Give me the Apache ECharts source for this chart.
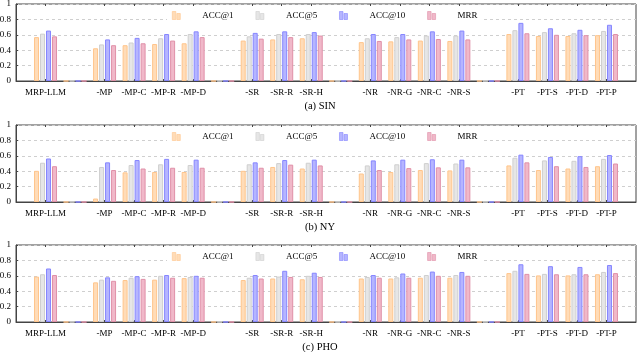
<!DOCTYPE html>
<html>
<head>
<meta charset="utf-8">
<script src="https://cdn.jsdelivr.net/npm/echarts@6/dist/echarts.min.js"></script>
<style>
  html, body { margin: 0; padding: 0; background: #fff; }
  #chart { width: 640px; height: 352px; }
</style>
</head>
<body>
<div id="chart"></div>
<script>
// categories ('' = empty slot between ablation groups)
var categories = ['MRP-LLM', '', '-MP', '-MP-C', '-MP-R', '-MP-D', '', '-SR', '-SR-R', '-SR-H', '',
    '-NR', '-NR-G', '-NR-C', '-NR-S', '', '-PT', '-PT-S', '-PT-D', '-PT-P'];
var seriesNames = ['ACC@1', 'ACC@5', 'ACC@10', 'MRR'];
var yTicks = [0, 0.2, 0.4, 0.6, 0.8, 1];

// (a) SIN
var sinAcc1  = [0.57, 0, 0.425, 0.465, 0.48, 0.49, 0, 0.525, 0.54, 0.555, 0, 0.505, 0.515, 0.525, 0.52, 0, 0.61, 0.585, 0.585, 0.595];
var sinAcc5  = [0.615, 0, 0.475, 0.5, 0.555, 0.61, 0, 0.58, 0.61, 0.61, 0, 0.555, 0.57, 0.59, 0.59, 0, 0.66, 0.635, 0.62, 0.65];
var sinAcc10 = [0.655, 0, 0.54, 0.56, 0.61, 0.645, 0, 0.625, 0.645, 0.635, 0, 0.61, 0.61, 0.645, 0.655, 0, 0.755, 0.685, 0.665, 0.73];
var sinMrr   = [0.58, 0, 0.465, 0.49, 0.525, 0.57, 0, 0.55, 0.57, 0.59, 0, 0.52, 0.54, 0.545, 0.54, 0, 0.62, 0.6, 0.595, 0.61];

// (b) NY
var nyAcc1  = [0.405, 0, 0.045, 0.385, 0.39, 0.39, 0, 0.405, 0.455, 0.435, 0, 0.37, 0.39, 0.415, 0.41, 0, 0.475, 0.415, 0.435, 0.465];
var nyAcc5  = [0.51, 0, 0.455, 0.48, 0.49, 0.48, 0, 0.49, 0.505, 0.51, 0, 0.475, 0.49, 0.505, 0.5, 0, 0.575, 0.54, 0.535, 0.56];
var nyAcc10 = [0.565, 0, 0.515, 0.545, 0.56, 0.55, 0, 0.515, 0.545, 0.55, 0, 0.54, 0.55, 0.555, 0.55, 0, 0.615, 0.585, 0.595, 0.61];
var nyMrr   = [0.465, 0, 0.415, 0.435, 0.445, 0.445, 0, 0.445, 0.485, 0.475, 0, 0.415, 0.44, 0.45, 0.45, 0, 0.515, 0.465, 0.455, 0.5];

// (c) PHO
var phoAcc1  = [0.59, 0, 0.515, 0.545, 0.55, 0.57, 0, 0.545, 0.565, 0.555, 0, 0.565, 0.565, 0.575, 0.575, 0, 0.635, 0.605, 0.605, 0.62];
var phoAcc5  = [0.62, 0, 0.55, 0.575, 0.6, 0.585, 0, 0.575, 0.59, 0.6, 0, 0.585, 0.58, 0.61, 0.61, 0, 0.665, 0.625, 0.62, 0.65];
var phoAcc10 = [0.695, 0, 0.58, 0.595, 0.61, 0.6, 0, 0.61, 0.665, 0.64, 0, 0.61, 0.63, 0.655, 0.65, 0, 0.75, 0.725, 0.715, 0.74];
var phoMrr   = [0.61, 0, 0.535, 0.56, 0.575, 0.575, 0, 0.565, 0.585, 0.585, 0, 0.575, 0.575, 0.6, 0.6, 0, 0.625, 0.62, 0.62, 0.635];

var panels = [
    {caption: '(a) SIN', top: 4, data: [sinAcc1, sinAcc5, sinAcc10, sinMrr]},
    {caption: '(b) NY', top: 125, data: [nyAcc1, nyAcc5, nyAcc10, nyMrr]},
    {caption: '(c) PHO', top: 245, data: [phoAcc1, phoAcc5, phoAcc10, phoMrr]}
];

var fills   = ['#ffdcb8', '#e6e6e6', '#b5b5ff', '#f0b8c9'];
var borders = ['#ffc58c', '#cfcfcf', '#8686ff', '#e090a8'];
var font = 'Liberation Serif';
var plotH = 77;

// pad one empty slot at each end (like enlarge x limits)
var xCats = [''].concat(categories, ['']);
function pad(arr) { return ['-'].concat(arr, ['-']); }
function labelled(index, value) { return value !== ''; }

var myChart = echarts.init(document.getElementById('chart'));
var option = {
    animation: false,
    textStyle: {fontFamily: font, color: '#000'},
    title: [], legend: [], grid: [], xAxis: [], yAxis: [], series: []
};

panels.forEach(function (p, i) {
    option.grid.push({
        left: 16, right: 4, top: p.top, height: plotH,
        show: true, borderColor: '#444', borderWidth: 1,
        outerBoundsMode: 'none'
    });
    option.title.push({
        text: p.caption, left: 'center', top: p.top + plotH + 20, padding: 0,
        textStyle: {fontFamily: font, fontSize: 10.5, fontWeight: 'normal', color: '#000'}
    });
    option.legend.push({
        data: seriesNames,
        left: 167, top: p.top + 2,
        padding: [5, 5],
        backgroundColor: '#fff',
        itemWidth: 8, itemHeight: 8, itemGap: 22,
        icon: 'path://M0,0 h3.5 v8 h-3.5 z M4.5,2 h3.5 v6 h-3.5 z',
        itemStyle: {borderWidth: 0.6},
        selectedMode: false,
        textStyle: {fontFamily: font, fontSize: 9, color: '#000', padding: [0, 0, 0, 17]}
    });
    option.xAxis.push({
        type: 'category', gridIndex: i, data: xCats, boundaryGap: false,
        axisLine: {show: true, lineStyle: {color: '#444', width: 1}},
        axisTick: {show: true, inside: true, length: 2, interval: labelled, lineStyle: {color: '#444'}},
        axisLabel: {interval: 0, margin: 7, fontFamily: font, fontSize: 9, color: '#000'},
        splitLine: {show: false}
    });
    option.xAxis.push({
        type: 'category', gridIndex: i, data: xCats, boundaryGap: false, position: 'top',
        axisLine: {show: false},
        axisTick: {show: true, inside: true, length: 2, interval: labelled, lineStyle: {color: '#444'}},
        axisLabel: {show: false},
        splitLine: {show: false}
    });
    option.yAxis.push({
        type: 'value', gridIndex: i, min: 0, max: 1, interval: 0.2,
        axisLine: {show: true, lineStyle: {color: '#444', width: 1}},
        axisTick: {show: true, inside: true, length: 2, lineStyle: {color: '#444'}},
        axisLabel: {margin: 5, fontFamily: font, fontSize: 9, color: '#000',
            formatter: function (v) { return yTicks.indexOf(v) >= 0 ? String(v) : ''; }},
        splitLine: {show: true, lineStyle: {color: '#cfcfcf', type: [3, 3], width: 1}}
    });
    seriesNames.forEach(function (name, k) {
        option.series.push({
            name: name, type: 'bar',
            xAxisIndex: i * 2, yAxisIndex: i,
            barWidth: 5, barGap: '20%',
            data: pad(p.data[k]),
            itemStyle: {color: fills[k], borderColor: borders[k], borderWidth: 1}
        });
    });
});

myChart.setOption(option);
</script>
</body>
</html>
